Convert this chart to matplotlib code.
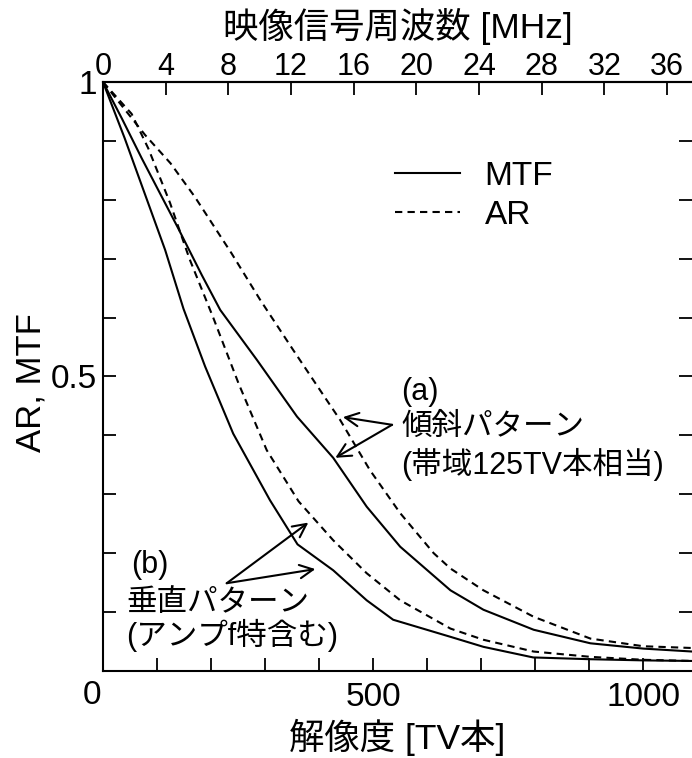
import matplotlib
matplotlib.use("Agg")
from matplotlib import pyplot as plt
from matplotlib.ticker import MultipleLocator, FixedLocator

plt.rcParams["font.family"] = ["Liberation Sans", "Noto Sans CJK JP"]

# (a) oblique pattern
tv_a_mtf = [0, 35, 72, 139, 183, 217, 285, 359, 426, 488, 550, 643, 704, 797, 902, 1000, 1091]
a_mtf = [1.0, 0.938, 0.87, 0.752, 0.672, 0.613, 0.528, 0.432, 0.362, 0.279, 0.211, 0.137, 0.104,
         0.07, 0.047, 0.038, 0.033]
tv_a_ar = [0, 78, 125, 170, 238, 291, 352, 414, 439, 494, 550, 612, 643, 704, 797, 902, 1000, 1091]
a_ar = [1.0, 0.91, 0.862, 0.805, 0.709, 0.63, 0.545, 0.46, 0.426, 0.341, 0.268, 0.2, 0.174, 0.137,
        0.092, 0.055, 0.042, 0.039]

# (b) vertical pattern (incl. amplifier response)
tv_b_mtf = [0, 40, 115, 149, 189, 241, 309, 360, 426, 488, 537, 643, 704, 796, 900, 1000, 1091]
b_mtf = [1.0, 0.905, 0.715, 0.615, 0.517, 0.403, 0.29, 0.215, 0.171, 0.12, 0.087, 0.058, 0.041,
         0.023, 0.02, 0.018, 0.017]
tv_b_ar = [0, 53, 84, 124, 160, 204, 251, 303, 362, 426, 488, 550, 643, 704, 797, 902, 1000, 1091]
b_ar = [1.0, 0.946, 0.887, 0.795, 0.70, 0.60, 0.488, 0.375, 0.288, 0.222, 0.166, 0.12, 0.072,
        0.053, 0.033, 0.024, 0.019, 0.017]

TV_PER_MHZ = 29.0
mhz_ticks = [0, 4, 8, 12, 16, 20, 24, 28, 32, 36]


def tv2mhz(x):
    return x / TV_PER_MHZ


def mhz2tv(x):
    return x * TV_PER_MHZ


fig = plt.figure(figsize=(6.92, 7.58), dpi=100)
ax = fig.add_axes([0.1488, 0.1148, 0.8512, 0.777])

lw = 1.5
dash = (3.5, 2.5)
ax.plot(tv_a_mtf, a_mtf, color="black", lw=lw, label="MTF")
ax.plot(tv_a_ar, a_ar, color="black", lw=lw, dashes=dash, label="AR")
ax.plot(tv_b_mtf, b_mtf, color="black", lw=lw)
ax.plot(tv_b_ar, b_ar, color="black", lw=lw, dashes=dash)

ax.set_xlim(0, 1090)
ax.set_ylim(0, 1)

# ticks
ax.xaxis.set_major_locator(FixedLocator([500, 1000]))
ax.xaxis.set_minor_locator(MultipleLocator(100))
ax.set_xticklabels(["500", "1000"])
ax.yaxis.set_major_locator(FixedLocator([0.5, 1.0]))
ax.yaxis.set_minor_locator(MultipleLocator(0.1))
ax.set_yticklabels(["0.5", "1"])
ax.tick_params(which="both", direction="in", length=9.5, width=1.3, labelsize=24,
               right=True, top=False)
ax.tick_params(axis="x", which="both", pad=8)
ax.tick_params(axis="y", which="both", pad=4)
ax.spines["right"].set_visible(False)
for s in ("left", "bottom", "top"):
    ax.spines[s].set_linewidth(1.5)
ax.text(-0.019, -0.041, "0", transform=ax.transAxes, ha="center", va="center", fontsize=24)

top = ax.secondary_xaxis("top", functions=(tv2mhz, mhz2tv))
top.set_xticks(mhz_ticks)
top.tick_params(direction="in", length=9.5, width=1.3, labelsize=22, pad=0)
top.spines["top"].set_linewidth(1.5)
top.set_xlabel("映像信号周波数 [MHz]", fontsize=25.5, labelpad=10)

ax.set_xlabel("解像度 [TV本]", fontsize=25.5, labelpad=4)
ax.set_ylabel("AR, MTF", fontsize=25)
ax.yaxis.set_label_coords(-0.094, 0.49)

ax.legend(loc="center left", bbox_to_anchor=(0.495, 0.807), frameon=False, fontsize=24,
          handlelength=1.95, handletextpad=0.75, labelspacing=0.25, borderpad=0,
          borderaxespad=0)

# annotations
txt = dict(fontsize=22, ha="left", va="center")
ax.text(552, 0.474, "(a)", **txt)
ax.text(552, 0.414, "傾斜パターン", **txt)
ax.text(552, 0.350, "(帯域125TV本相当)", **txt)
ax.text(52, 0.18, "(b)", **txt)
ax.text(44, 0.115, "垂直パターン", **txt)
ax.text(42, 0.061, "(アンプf特含む)", **txt)

arrow = dict(arrowstyle="->", lw=1.5, color="black", shrinkA=0, shrinkB=0, mutation_scale=24)
ax.annotate("", xy=(444, 0.431), xytext=(535, 0.418), arrowprops=arrow)
ax.annotate("", xy=(430, 0.362), xytext=(535, 0.418), arrowprops=arrow)
ax.annotate("", xy=(380, 0.252), xytext=(229, 0.149), arrowprops=arrow)
ax.annotate("", xy=(393, 0.173), xytext=(229, 0.149), arrowprops=arrow)

fig.savefig("out.png", dpi=100)
